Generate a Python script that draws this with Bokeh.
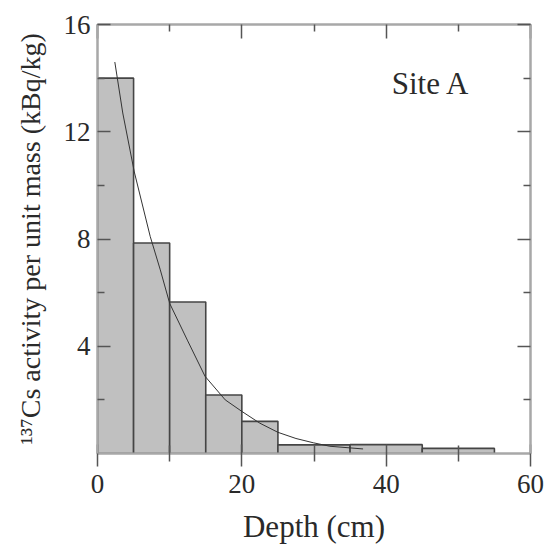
from bokeh.plotting import figure
from bokeh.models import LinearAxis, FixedTicker, Range1d, Label
from bokeh.embed import file_html
from bokeh.resources import INLINE

# Bars: depth intervals (cm) and 137Cs activity (kBq/kg)
bin_left = [0, 5, 10, 15, 20, 25, 35, 45]
bin_right = [5, 10, 15, 20, 25, 35, 45, 55]
activity = [14.0, 7.85, 5.65, 2.18, 1.2, 0.32, 0.33, 0.19]

# Fitted curve
curve_depth = [2.4, 3.5, 5.1, 7.3, 8.7, 10.0, 12.5, 14.9, 17.7, 20.0, 22.5, 25.0, 27.5, 29.9, 32.2, 36.8]
curve_activity = [14.6, 12.7, 10.5, 8.1, 6.85, 5.6, 4.2, 2.88, 2.0, 1.57, 1.13, 0.79, 0.56, 0.40, 0.27, 0.17]

x_major = [0, 20, 40, 60]
x_minor = [10, 30, 50]
y_major = [4, 8, 12, 16]
y_minor = [2, 6, 10, 14]

FONT = "Liberation Serif"
FRAME = "#a8a8a8"
TICK = "#555555"
TXT = "#2a2a2a"

p = figure(width=546, height=546, output_backend="svg", toolbar_location=None,
           x_range=Range1d(0, 60), y_range=Range1d(0, 16),
           min_border_left=97, min_border_right=16, min_border_top=24, min_border_bottom=92,
           x_axis_label="Depth (cm)", y_axis_label="¹³⁷Cs activity per unit mass (kBq/kg)")
p.grid.visible = False
p.outline_line_color = FRAME
p.outline_line_width = 2
p.background_fill_color = "white"
p.border_fill_color = "white"

p.quad(left=bin_left, right=bin_right, bottom=0, top=activity,
       fill_color="#c0c0c0", line_color="#454545", line_width=1.6)
p.line(curve_depth, curve_activity, line_color="#333333", line_width=1)

xa = p.xaxis[0]
xa.ticker = FixedTicker(ticks=x_major, minor_ticks=x_minor)
xa.major_tick_in = 9
xa.major_tick_out = 13
xa.minor_tick_in = 8
xa.minor_tick_out = 8
xa.major_label_standoff = 8
ya = p.yaxis[0]
ya.ticker = FixedTicker(ticks=y_major, minor_ticks=y_minor)
ya.major_tick_in = 13
ya.major_tick_out = 0
ya.minor_tick_in = 7
ya.minor_tick_out = 0
ya.major_label_standoff = 7
ya.major_label_orientation = "horizontal"

for ax in (xa, ya):
    ax.axis_line_color = FRAME
    ax.axis_line_width = 2
    ax.major_tick_line_color = TICK
    ax.minor_tick_line_color = TICK
    ax.major_tick_line_width = 1.5
    ax.minor_tick_line_width = 1.5
    ax.major_label_text_font = FONT
    ax.major_label_text_font_size = "27px"
    ax.major_label_text_color = TXT
    ax.axis_label_text_font = FONT
    ax.axis_label_text_font_style = "normal"
    ax.axis_label_text_color = TXT
xa.axis_label_text_font_size = "31px"
ya.axis_label_text_font_size = "28px"
xa.axis_label_standoff = 13
ya.axis_label_standoff = 15

top = LinearAxis(ticker=FixedTicker(ticks=x_major, minor_ticks=x_minor))
right = LinearAxis(ticker=FixedTicker(ticks=y_major, minor_ticks=y_minor))
for ax, (mi, mn) in ((top, (14, 7)), (right, (13, 7))):
    ax.major_label_text_font_size = "1px"
    ax.major_label_text_color = None
    ax.major_label_standoff = 0
    ax.major_tick_in = mi
    ax.major_tick_out = 0
    ax.minor_tick_in = mn
    ax.minor_tick_out = 0
    ax.axis_line_color = FRAME
    ax.axis_line_width = 2
    ax.major_tick_line_color = TICK
    ax.minor_tick_line_color = TICK
    ax.major_tick_line_width = 1.5
    ax.minor_tick_line_width = 1.5
p.add_layout(top, "above")
p.add_layout(right, "right")

p.add_layout(Label(x=46.2, y=13.8, text="Site A", text_font=FONT, text_font_size="31px",
                   text_color=TXT, text_align="center", text_baseline="middle"))

open("out.html", "w").write(file_html(p, INLINE))
